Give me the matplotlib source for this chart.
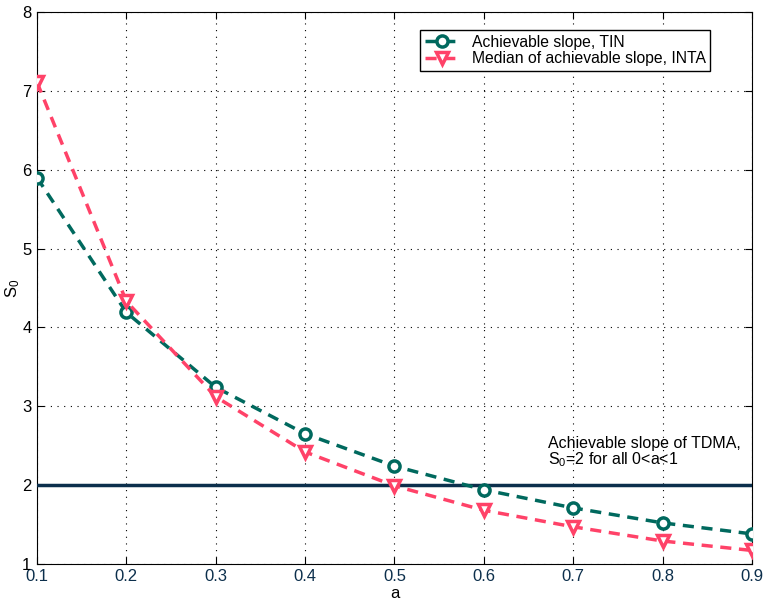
import matplotlib
matplotlib.use('Agg')
import matplotlib.pyplot as plt

# Data
a_values = [0.1, 0.2, 0.3, 0.4, 0.5, 0.6, 0.7, 0.8, 0.9]
slope_tin = [5.90, 4.19, 3.24, 2.65, 2.24, 1.94, 1.71, 1.52, 1.38]
slope_inta = [7.11, 4.33, 3.12, 2.42, 1.99, 1.68, 1.47, 1.29, 1.17]
tdma_slope = 2.0

teal = '#00695e'
pink = '#ff4268'
navy = '#0c2f4c'

plt.rcParams['font.family'] = ['Liberation Sans', 'DejaVu Sans']
plt.rcParams['font.size'] = 12

fig = plt.figure(figsize=(7.63, 6.05), dpi=100)
ax = fig.add_axes([0.0485, 0.068, 0.937, 0.912])

ax.plot(a_values, slope_tin, linestyle='--', color=teal, linewidth=2.5,
        dashes=(3.2, 2.2), marker='o', markersize=8, markerfacecolor='white',
        markeredgecolor=teal, markeredgewidth=2.5,
        label='Achievable slope, TIN', zorder=4)
ax.plot(a_values, slope_inta, linestyle='--', color=pink, linewidth=2.5,
        dashes=(3.2, 2.2), marker='v', markersize=9, markerfacecolor='white',
        markeredgecolor=pink, markeredgewidth=2.5,
        label='Median of achievable slope, INTA', zorder=4)
ax.axhline(tdma_slope, color=navy, linewidth=2.5, zorder=3)

ax.text(0.672, 2.2, 'Achievable slope of TDMA,\n$\\mathregular{S_0}$=2 for all 0<a<1',
        ha='left', va='bottom', fontsize=11.5, linespacing=1.0)

ax.set_xlim(0.1, 0.9)
ax.set_ylim(1, 8)
ax.set_xticks([0.1, 0.2, 0.3, 0.4, 0.5, 0.6, 0.7, 0.8, 0.9])
ax.set_yticks([1, 2, 3, 4, 5, 6, 7, 8])
ax.grid(True, linestyle=(0, (1, 5)), color='black', linewidth=0.8)
ax.tick_params(direction='in', top=True, right=True, length=5, pad=4)
for lbl in ax.get_xticklabels():
    lbl.set_color(navy)

ax.set_xlabel('a', labelpad=1)
ax.set_ylabel('$\\mathregular{S_0}$')
ax.yaxis.set_label_coords(-0.021, 0.5)

leg = ax.legend(loc='upper right', bbox_to_anchor=(0.953, 0.982),
                fancybox=False, edgecolor='black', framealpha=1,
                fontsize=11.3, handlelength=2.2, borderpad=0.3,
                labelspacing=0.1)
leg.get_frame().set_linewidth(1.0)

fig.savefig('out.png', dpi=100)
